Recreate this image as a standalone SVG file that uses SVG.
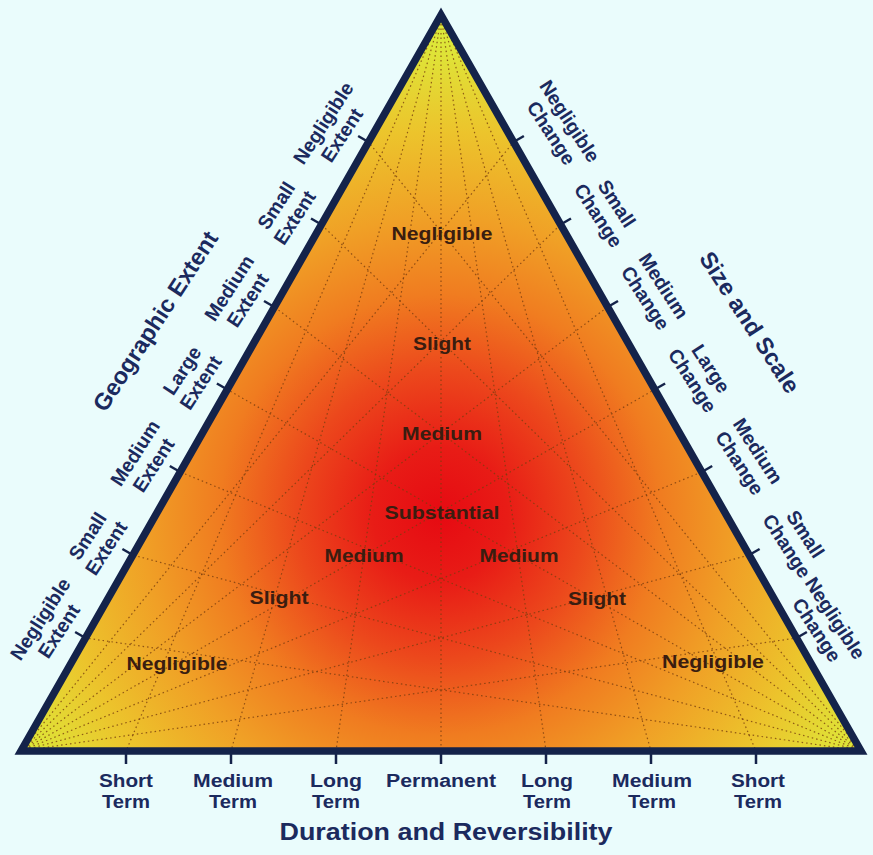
<svg xmlns="http://www.w3.org/2000/svg" width="873" height="855" viewBox="0 0 873 855">
<defs>
<radialGradient id="heat" gradientUnits="userSpaceOnUse" cx="440" cy="515" r="480">
<stop offset="0" stop-color="#e60a12"/>
<stop offset="0.14" stop-color="#e81c16"/>
<stop offset="0.3" stop-color="#ec481c"/>
<stop offset="0.46" stop-color="#f07c20"/>
<stop offset="0.62" stop-color="#f0a026"/>
<stop offset="0.8" stop-color="#ecc42c"/>
<stop offset="1" stop-color="#dcea3a"/>
</radialGradient>
<style>
.ax{font-family:"Liberation Sans",Arial,sans-serif;font-weight:bold;fill:#1b2a5e;text-anchor:middle}
.rl{font-size:19.5px}
.bl{font-size:18px}
.tt{font-size:23.5px}
.in{font-family:"Liberation Sans",Arial,sans-serif;font-weight:bold;font-size:18px;fill:#3a1d10;text-anchor:middle}
.grid line{stroke:#7a3f10;stroke-width:1.2;stroke-dasharray:1.5 3;opacity:0.8}
.tick{stroke:#14234a;stroke-width:2.5}
</style>
</defs>
<rect width="873" height="855" fill="#eafcfc"/>
<g id="triangle">
<polygon points="441,15 21,751 861,751" fill="url(#heat)"/>
</g>
<g id="connectors" class="grid">
<line x1="441" y1="15" x2="126" y2="751"/>
<line x1="441" y1="15" x2="231" y2="751"/>
<line x1="441" y1="15" x2="336" y2="751"/>
<line x1="441" y1="15" x2="441" y2="751"/>
<line x1="441" y1="15" x2="546" y2="751"/>
<line x1="441" y1="15" x2="651" y2="751"/>
<line x1="441" y1="15" x2="756" y2="751"/>
<line x1="861" y1="751" x2="368.5" y2="142"/>
<line x1="861" y1="751" x2="321.4" y2="224.5"/>
<line x1="861" y1="751" x2="274.4" y2="307"/>
<line x1="861" y1="751" x2="227.3" y2="389.5"/>
<line x1="861" y1="751" x2="180.2" y2="472"/>
<line x1="861" y1="751" x2="132.8" y2="555"/>
<line x1="861" y1="751" x2="85.5" y2="638"/>
<line x1="21" y1="751" x2="513.5" y2="142"/>
<line x1="21" y1="751" x2="560.6" y2="224.5"/>
<line x1="21" y1="751" x2="607.6" y2="307"/>
<line x1="21" y1="751" x2="654.7" y2="389.5"/>
<line x1="21" y1="751" x2="701.8" y2="472"/>
<line x1="21" y1="751" x2="749.2" y2="555"/>
<line x1="21" y1="751" x2="796.5" y2="638"/>
</g>
<g id="frame">
<polygon points="441,15 21,751 861,751" fill="none" stroke="#14234a" stroke-width="7.5" stroke-linejoin="miter"/>
<g class="tick">
<line x1="126" y1="754" x2="126" y2="764"/>
<line x1="231" y1="754" x2="231" y2="764"/>
<line x1="336" y1="754" x2="336" y2="764"/>
<line x1="441" y1="754" x2="441" y2="764"/>
<line x1="546" y1="754" x2="546" y2="764"/>
<line x1="651" y1="754" x2="651" y2="764"/>
<line x1="756" y1="754" x2="756" y2="764"/>
<line x1="365.9" y1="140.5" x2="358.1" y2="136"/>
<line x1="318.8" y1="223" x2="311" y2="218.5"/>
<line x1="271.8" y1="305.5" x2="264" y2="301"/>
<line x1="224.7" y1="388" x2="216.9" y2="383.5"/>
<line x1="177.6" y1="470.5" x2="169.8" y2="466"/>
<line x1="130.2" y1="553.5" x2="122.4" y2="549"/>
<line x1="82.9" y1="636.5" x2="75.1" y2="632"/>
<line x1="516.1" y1="140.5" x2="523.9" y2="136"/>
<line x1="563.2" y1="223" x2="571" y2="218.5"/>
<line x1="610.2" y1="305.5" x2="618" y2="301"/>
<line x1="657.3" y1="388" x2="665.1" y2="383.5"/>
<line x1="704.4" y1="470.5" x2="712.2" y2="466"/>
<line x1="751.8" y1="553.5" x2="759.6" y2="549"/>
<line x1="799.1" y1="636.5" x2="806.9" y2="632"/>
</g>
</g>
<g id="inner-labels">
<text class="in" x="442" y="240" textLength="101" lengthAdjust="spacingAndGlyphs">Negligible</text>
<text class="in" x="442" y="350" textLength="58" lengthAdjust="spacingAndGlyphs">Slight</text>
<text class="in" x="442" y="440" textLength="80" lengthAdjust="spacingAndGlyphs">Medium</text>
<text class="in" x="442" y="519" textLength="115" lengthAdjust="spacingAndGlyphs">Substantial</text>
<text class="in" x="364" y="562" textLength="79" lengthAdjust="spacingAndGlyphs">Medium</text>
<text class="in" x="519" y="562" textLength="79" lengthAdjust="spacingAndGlyphs">Medium</text>
<text class="in" x="279" y="604" textLength="59" lengthAdjust="spacingAndGlyphs">Slight</text>
<text class="in" x="597" y="605" textLength="58" lengthAdjust="spacingAndGlyphs">Slight</text>
<text class="in" x="177" y="670" textLength="101" lengthAdjust="spacingAndGlyphs">Negligible</text>
<text class="in" x="713" y="668" textLength="102" lengthAdjust="spacingAndGlyphs">Negligible</text>
</g>
<g id="axis-geographic-extent" class="ax rl">
<text class="ax tt" transform="translate(155,321) rotate(-57)" y="8.5">Geographic Extent</text>
<g transform="translate(332.5,129) rotate(-57)"><text y="-4.2">Negligible</text><text y="17.8">Extent</text></g>
<g transform="translate(285.4,211.5) rotate(-57)"><text y="-4.2">Small</text><text y="17.8">Extent</text></g>
<g transform="translate(238.4,294) rotate(-57)"><text y="-4.2">Medium</text><text y="17.8">Extent</text></g>
<g transform="translate(191.3,376.5) rotate(-57)"><text y="-4.2">Large</text><text y="17.8">Extent</text></g>
<g transform="translate(144.2,459) rotate(-57)"><text y="-4.2">Medium</text><text y="17.8">Extent</text></g>
<g transform="translate(96.8,542) rotate(-57)"><text y="-4.2">Small</text><text y="17.8">Extent</text></g>
<g transform="translate(49.5,625) rotate(-57)"><text y="-4.2">Negligible</text><text y="17.8">Extent</text></g>
</g>
<g id="axis-size-scale" class="ax rl">
<text class="ax tt" transform="translate(750,322) rotate(57)" y="8.5">Size and Scale</text>
<g transform="translate(560.5,127) rotate(57)"><text y="-4.2">Negligible</text><text y="17.8">Change</text></g>
<g transform="translate(607.6,209.5) rotate(57)"><text y="-4.2">Small</text><text y="17.8">Change</text></g>
<g transform="translate(654.6,292) rotate(57)"><text y="-4.2">Medium</text><text y="17.8">Change</text></g>
<g transform="translate(701.7,374.5) rotate(57)"><text y="-4.2">Large</text><text y="17.8">Change</text></g>
<g transform="translate(748.8,457) rotate(57)"><text y="-4.2">Medium</text><text y="17.8">Change</text></g>
<g transform="translate(796.2,540) rotate(57)"><text y="-4.2">Small</text><text y="17.8">Change</text></g>
<g transform="translate(826,624) rotate(57)"><text y="-4.2">Negligible</text><text y="17.8">Change</text></g>
</g>
<g id="axis-duration" class="ax bl">
<text x="126" y="787" textLength="54" lengthAdjust="spacingAndGlyphs">Short</text>
<text x="126" y="808" textLength="48" lengthAdjust="spacingAndGlyphs">Term</text>
<text x="233" y="787" textLength="80" lengthAdjust="spacingAndGlyphs">Medium</text>
<text x="233" y="808" textLength="48" lengthAdjust="spacingAndGlyphs">Term</text>
<text x="336" y="787" textLength="52" lengthAdjust="spacingAndGlyphs">Long</text>
<text x="336" y="808" textLength="48" lengthAdjust="spacingAndGlyphs">Term</text>
<text x="441" y="787" textLength="110" lengthAdjust="spacingAndGlyphs">Permanent</text>
<text x="547" y="787" textLength="52" lengthAdjust="spacingAndGlyphs">Long</text>
<text x="547" y="808" textLength="48" lengthAdjust="spacingAndGlyphs">Term</text>
<text x="652" y="787" textLength="80" lengthAdjust="spacingAndGlyphs">Medium</text>
<text x="652" y="808" textLength="48" lengthAdjust="spacingAndGlyphs">Term</text>
<text x="758" y="787" textLength="54" lengthAdjust="spacingAndGlyphs">Short</text>
<text x="758" y="808" textLength="48" lengthAdjust="spacingAndGlyphs">Term</text>
<text class="ax tt" x="446" y="840" textLength="333" lengthAdjust="spacingAndGlyphs">Duration and Reversibility</text>
</g>
</svg>
